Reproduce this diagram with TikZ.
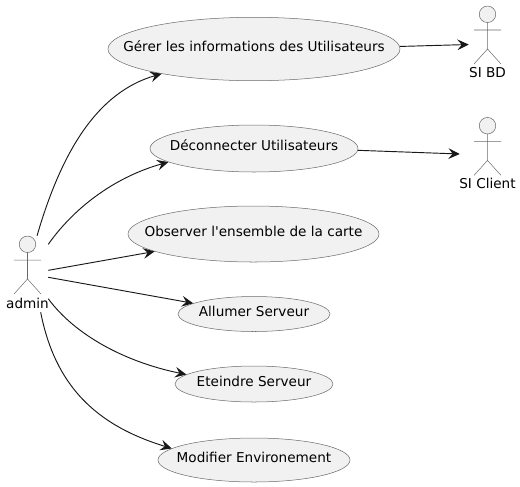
\documentclass[tikz,border=0pt]{standalone}
\usepackage{fontspec}
\newfontfamily\plainsans{DejaVu Sans}
\usetikzlibrary{shapes.geometric,arrows.meta}
\definecolor{ink}{HTML}{181818}
\definecolor{edgegray}{HTML}{6A6A6A}
\definecolor{pale}{HTML}{F1F1F1}
\newcommand{\intext}[1]{\makebox[0pt][c]{\smash{\raisebox{-1.5pt}{#1}}}}
\newcommand{\stickman}[2]{%
  \draw[figline,fill=pale] (#1,#2+8.3) circle[radius=6.2pt];
  \draw[figline] (#1,#2+16.5) -- (#1,#2+43)
    (#1-13.5,#2+24) -- (#1+13.5,#2+24)
    (#1-13.5,#2+58) -- (#1,#2+43) -- (#1+13.5,#2+58);
}
\tikzset{
  figline/.style={draw=edgegray,line width=0.38pt},
  usecase/.style n args={2}{ellipse,draw=edgegray,line width=0.38pt,fill=pale,inner sep=0pt,
    minimum width=#1*1.5pt,minimum height=#2*1.5pt,font=\plainsans\fontsize{10.2pt}{12pt}\selectfont,text=black},
  actorbox/.style n args={2}{rectangle,inner sep=0pt,minimum width=#1*0.75pt,minimum height=#2*0.75pt},
  actorname/.style={inner sep=0pt,font=\plainsans\fontsize{10.2pt}{12pt}\selectfont,text=black},
  link/.style={draw=ink,line width=0.7pt,-{Stealth[length=8.5pt,width=8pt,inset=3.2pt]}}
}
\begin{document}
\begin{tikzpicture}[x=0.75pt,y=-0.75pt]
\useasboundingbox (0,0) rectangle (520,486);
\node[usecase={146}{31.7}] (gerer) at (254,49) {\intext{Gérer les informations des Utilisateurs}};
\node[usecase={104}{23.5}] (deco) at (254,148.5) {\intext{Déconnecter Utilisateurs}};
\node[usecase={125.5}{28}] (obs) at (253.5,234) {\intext{Observer l'ensemble de la carte}};
\node[usecase={76}{17.5}] (allumer) at (254,314) {\intext{Allumer Serveur}};
\node[usecase={79}{18}] (eteindre) at (254,384) {\intext{Eteindre Serveur}};
\node[usecase={96}{22}] (modifier) at (254,460) {\intext{Modifier Environement}};

\node[actorbox={41}{76}] (admin) at (27.5,274) {};
\stickman{27.5}{236}
\node[actorname] (adminname) at (27.5,303) {admin};

\node[actorbox={37}{77}] (sibd) at (487.5,44.5) {};
\stickman{487.5}{6}
\node[actorname] (sibdname) at (487.5,73) {SI BD};

\node[actorbox={55}{74}] (siclient) at (487.5,154) {};
\stickman{487.5}{117.4}
\node[actorname] (siclientname) at (487.5,183.4) {SI Client};

\draw[link] (admin.76.3) .. controls (62,150) and (98,92) .. (gerer.195.1);
\draw[link] (admin.55.7) .. controls (76,205) and (118,176) .. (deco.189.9);
\draw[link] (admin.10.2) -- (obs.190.1);
\draw[link] (admin.-9.1) -- (allumer.170.2);
\draw[link] (admin.-50) .. controls (75,335) and (125,362) .. (eteindre.172.3);
\draw[link] (admin.-71.8) .. controls (55,385) and (95,425) .. (modifier.172.8);
\draw[link] (gerer.1.6) -- (sibd.west);
\draw[link] (deco.-1.8) -- (siclient.west);
\end{tikzpicture}
\end{document}
